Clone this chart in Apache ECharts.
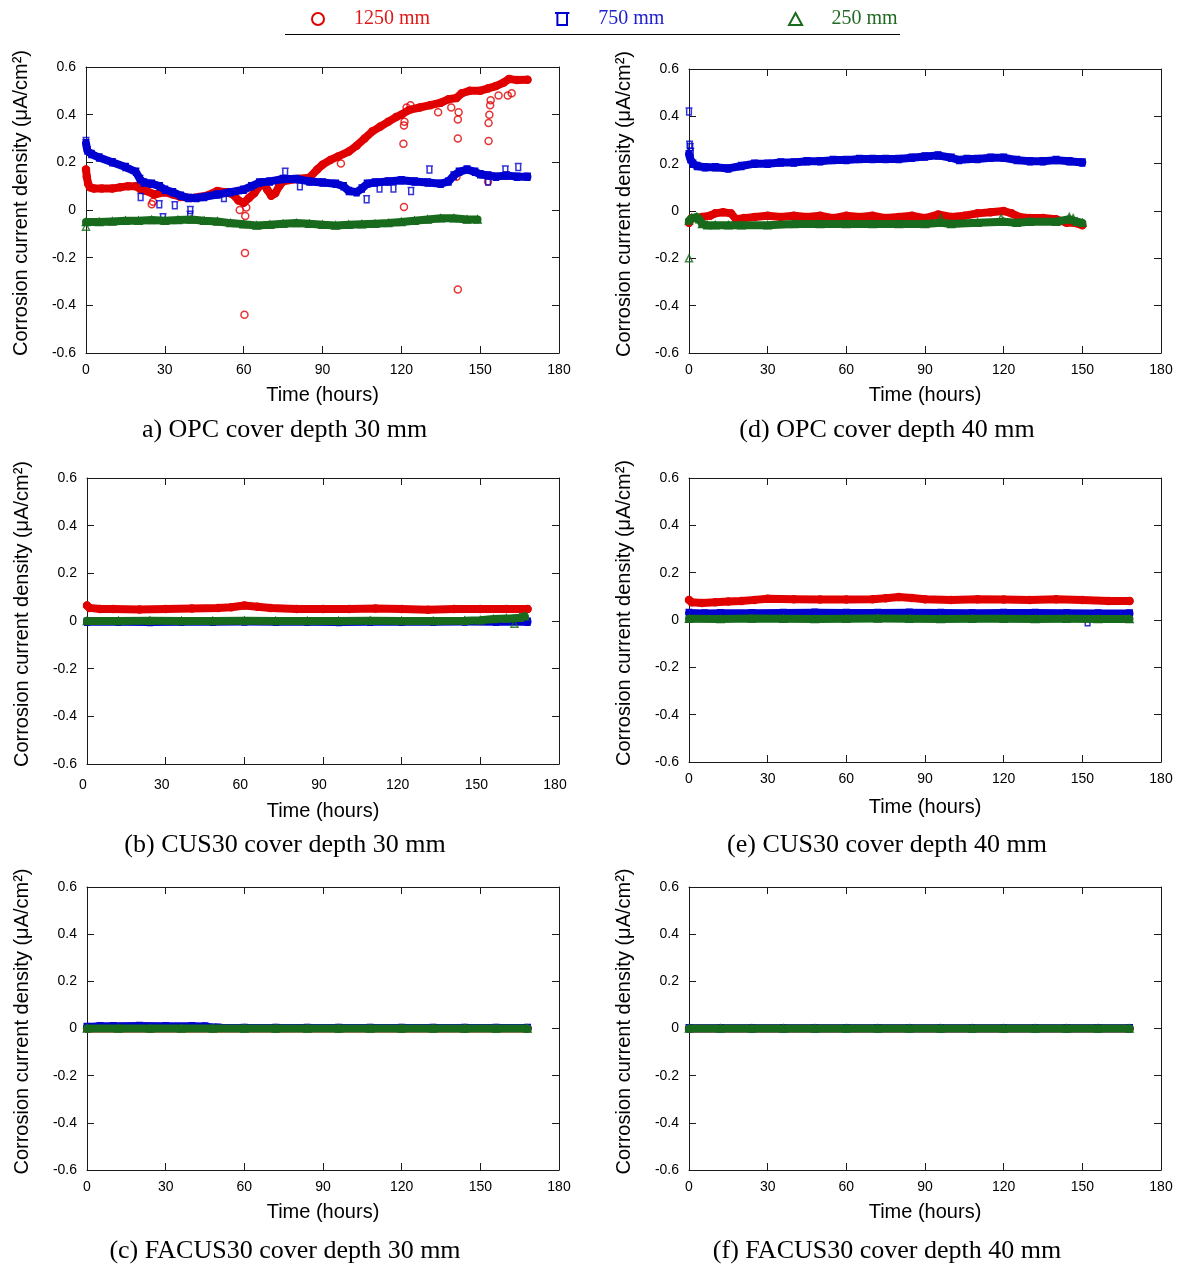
<!DOCTYPE html>
<html>
<head>
<meta charset="utf-8">
<script src="https://cdn.jsdelivr.net/npm/echarts@6/dist/echarts.min.js"></script>
<style>
html,body{margin:0;padding:0;background:#fff;}
#chart{width:1182px;height:1272px;}
</style>
</head>
<body>
<div id="chart"></div>
<script>
// ---------- tick labels / axes ----------
var xTicks = [0, 30, 60, 90, 120, 150, 180];
var yTicks = [-0.6, -0.4, -0.2, 0, 0.2, 0.4, 0.6];
var seriesNames = ['1250 mm', '750 mm', '250 mm'];
var captions = ['a) OPC cover depth 30 mm', '(b) CUS30 cover depth 30 mm', '(c) FACUS30 cover depth 30 mm',
                '(d) OPC cover depth 40 mm', '(e) CUS30 cover depth 40 mm', '(f) FACUS30 cover depth 40 mm'];

// ---------- (a) OPC 30 mm : [hours, µA/cm²] ----------
var a_1250 = [[0,0.17],[0.3,0.14],[0.8,0.11],[1.5,0.095],[3,0.09],[6,0.09],[10,0.09],[13,0.095],[16,0.1],[19,0.1],[21,0.085],[23,0.08],[26,0.065],[30,0.075],[33,0.065],[36,0.055],[40,0.05],[43,0.055],[46,0.06],[50,0.08],[53,0.075],[56,0.065],[58,0.04],[60,0.03],[62,0.05],[64,0.07],[66,0.1],[67.5,0.115],[69,0.085],[70.5,0.06],[72,0.07],[73.5,0.1],[75,0.12],[80,0.13],[85,0.135],[88,0.17],[90,0.19],[93,0.21],[96,0.225],[100,0.245],[103,0.27],[106,0.3],[109,0.33],[112,0.35],[115,0.37],[118,0.39],[120,0.4],[123,0.42],[127,0.43],[131,0.44],[135,0.45],[138,0.465],[141,0.47],[143,0.49],[146,0.5],[150,0.5],[153,0.51],[156,0.52],[159,0.535],[161,0.55],[164,0.545],[168,0.547]];
var a_1250_out = [[60.3,-0.44],[60.5,-0.18],[60.6,-0.025],[58.5,0.0],[61,0.01],[25,0.024],[25.5,0.035],[97,0.195],[120.8,0.278],[121,0.355],[121.2,0.37],[121,0.013],[122,0.43],[123.5,0.44],[134,0.41],[139,0.43],[141.5,-0.334],[141.5,0.3],[141.5,0.38],[141.8,0.41],[141,0.14],[153.2,0.29],[153.2,0.365],[153.5,0.4],[153.8,0.44],[154,0.46],[153,0.12],[157,0.48],[160.5,0.48],[162,0.49]];
var a_750 = [[0,0.28],[0.5,0.25],[2,0.235],[5,0.22],[10,0.2],[15,0.18],[19,0.16],[20.5,0.13],[22,0.115],[25,0.11],[28,0.1],[30,0.085],[33,0.075],[36,0.06],[39,0.05],[42,0.05],[45,0.055],[50,0.065],[55,0.075],[60,0.085],[63,0.1],[66,0.115],[70,0.12],[75,0.13],[80,0.13],[85,0.12],[90,0.115],[95,0.11],[98,0.1],[100,0.08],[103,0.075],[105,0.09],[107,0.11],[110,0.115],[115,0.12],[120,0.125],[125,0.12],[130,0.115],[135,0.11],[138,0.12],[140,0.145],[142,0.16],[145,0.17],[148,0.16],[150,0.15],[153,0.145],[156,0.14],[160,0.145],[164,0.14],[168,0.14]];
var a_750_out = [[0,0.29],[20.8,0.055],[27.9,0.024],[29.3,-0.03],[33.8,0.02],[39.7,0.0],[39.6,-0.02],[52.5,0.05],[75.8,0.16],[81.4,0.1],[106.8,0.045],[111.7,0.09],[117,0.09],[123.7,0.08],[130.7,0.17],[153,0.12],[159.6,0.17],[164.5,0.18]];
var a_250 = [[0,-0.05],[5,-0.05],[10,-0.048],[15,-0.045],[20,-0.045],[25,-0.042],[30,-0.045],[35,-0.042],[40,-0.04],[45,-0.045],[50,-0.048],[55,-0.055],[60,-0.06],[65,-0.065],[70,-0.062],[75,-0.058],[80,-0.055],[85,-0.058],[90,-0.062],[95,-0.065],[100,-0.062],[105,-0.06],[110,-0.058],[115,-0.055],[120,-0.05],[125,-0.045],[130,-0.04],[135,-0.035],[140,-0.035],[145,-0.04],[149,-0.04]];
var a_250_out = [[0,-0.07]];

// ---------- (b) CUS30 30 mm ----------
var b_1250 = [[0,0.065],[1,0.055],[5,0.05],[10,0.05],[20,0.048],[30,0.05],[40,0.052],[50,0.055],[55,0.058],[60,0.065],[65,0.06],[70,0.055],[80,0.05],[90,0.05],[100,0.05],[110,0.052],[120,0.05],[130,0.047],[140,0.05],[150,0.05],[160,0.05],[168,0.05]];
var b_750 = [[0,-0.003],[12,-0.003],[24,-0.004],[36,-0.003],[48,-0.003],[60,-0.002],[72,-0.003],[84,-0.003],[96,-0.004],[108,-0.003],[120,-0.003],[132,-0.003],[144,-0.002],[156,-0.003],[168,-0.003]];
var b_250 = [[0,0.0],[12,0.0],[24,0.001],[36,0.0],[48,0.0],[60,0.001],[72,0.0],[84,0.0],[96,0.0],[108,0.001],[120,0.0],[132,0.0],[144,0.001],[150,0.003],[155,0.008],[160,0.01],[165,0.014],[167,0.02]];
var b_250_out = [[163,-0.012]];

// ---------- (c) FACUS30 30 mm ----------
var c_1250 = [[0,0.0],[24,0.0],[48,0.0],[72,0.0],[96,0.0],[120,0.0],[144,0.0],[168,0.0]];
var c_750 = [[0,0.006],[5,0.01],[10,0.01],[20,0.011],[30,0.01],[40,0.01],[45,0.008],[50,0.003],[60,0.002],[72,0.002],[84,0.002],[96,0.002],[108,0.002],[120,0.002],[132,0.002],[144,0.002],[156,0.002],[168,0.002]];
var c_250 = [[0,0.0],[12,0.0],[24,0.0],[36,0.0],[48,0.0],[60,0.0],[72,0.0],[84,0.0],[96,0.0],[108,0.0],[120,0.0],[132,0.0],[144,0.0],[156,0.0],[168,0.0]];

// ---------- (d) OPC 40 mm ----------
var d_1250 = [[0,-0.05],[1,-0.03],[3,-0.03],[5,-0.025],[8,-0.02],[10,-0.01],[13,-0.005],[16,-0.01],[18,-0.035],[21,-0.03],[25,-0.025],[30,-0.02],[35,-0.025],[40,-0.02],[45,-0.025],[50,-0.02],[55,-0.03],[60,-0.02],[65,-0.025],[70,-0.02],[75,-0.03],[80,-0.025],[85,-0.02],[90,-0.03],[95,-0.015],[100,-0.025],[105,-0.02],[110,-0.01],[115,-0.005],[120,0.0],[123,-0.01],[126,-0.025],[130,-0.03],[135,-0.03],[140,-0.035],[144,-0.05],[147,-0.05],[150,-0.06]];
var d_750 = [[0,0.24],[0.5,0.22],[1.5,0.2],[3,0.19],[6,0.185],[10,0.185],[15,0.18],[20,0.19],[25,0.2],[30,0.2],[35,0.205],[40,0.205],[45,0.21],[50,0.21],[55,0.215],[60,0.215],[65,0.22],[70,0.22],[75,0.22],[80,0.22],[85,0.225],[90,0.23],[95,0.235],[100,0.225],[103,0.215],[106,0.22],[110,0.22],[115,0.225],[120,0.225],[125,0.215],[130,0.21],[135,0.21],[140,0.215],[145,0.21],[150,0.205]];
var d_750_out = [[0,0.42],[0.2,0.28],[0.5,0.27],[0.7,0.25]];
var d_250 = [[0,-0.04],[1,-0.03],[3,-0.025],[4,-0.035],[5,-0.055],[7,-0.06],[10,-0.06],[15,-0.06],[20,-0.06],[30,-0.06],[40,-0.055],[50,-0.055],[60,-0.055],[70,-0.055],[80,-0.055],[90,-0.055],[96,-0.05],[100,-0.055],[110,-0.05],[120,-0.045],[125,-0.05],[130,-0.045],[140,-0.045],[145,-0.035],[148,-0.045],[150,-0.05]];
var d_250_out = [[0,-0.2],[96,-0.03],[119,-0.03],[145,-0.025],[146.5,-0.03]];

// ---------- (e) CUS30 40 mm ----------
var e_1250 = [[0,0.085],[1,0.075],[5,0.072],[10,0.075],[15,0.078],[20,0.08],[25,0.085],[30,0.09],[40,0.088],[50,0.087],[60,0.087],[70,0.088],[75,0.092],[80,0.097],[85,0.093],[90,0.088],[100,0.085],[110,0.088],[120,0.087],[130,0.085],[140,0.088],[150,0.085],[160,0.08],[168,0.08]];
var e_750 = [[0,0.03],[6,0.027],[12,0.028],[24,0.029],[36,0.03],[48,0.031],[60,0.03],[72,0.03],[84,0.031],[96,0.03],[108,0.029],[120,0.03],[132,0.03],[144,0.028],[156,0.027],[168,0.027]];
var e_750_out = [[152,-0.01]];
var e_250 = [[0,0.005],[12,0.004],[24,0.006],[36,0.005],[48,0.004],[60,0.005],[72,0.006],[84,0.005],[96,0.004],[108,0.005],[120,0.005],[132,0.004],[144,0.005],[156,0.004],[168,0.004]];

// ---------- (f) FACUS30 40 mm ----------
var f_1250 = [[0,0.0],[24,0.0],[48,0.0],[72,0.0],[96,0.0],[120,0.0],[144,0.0],[168,0.0]];
var f_750 = [[0,0.001],[12,0.001],[24,0.001],[36,0.001],[48,0.001],[60,0.001],[72,0.001],[84,0.001],[96,0.001],[108,0.001],[120,0.001],[132,0.001],[144,0.001],[156,0.001],[168,0.001]];
var f_250 = [[0,0.0],[12,0.0],[24,0.0],[36,0.0],[48,0.0],[60,0.0],[72,0.0],[84,0.0],[96,0.0],[108,0.0],[120,0.0],[132,0.0],[144,0.0],[156,0.0],[168,0.0]];

// ---------- styling ----------
var COLORS = ['#e00000', '#0000d0', '#186a1c'];
var TEXTCOL = ['#e01818', '#2020d0', '#206a24'];
var SYMS = ['circle', 'path://M0,1H12M2,1V11H10V1', 'path://M6,0L12,11H0Z'];
var SANS = 'Liberation Sans, Arial, sans-serif';
var SERIF = 'Liberation Serif, Times New Roman, serif';

// layout per panel: [left, top, right, bottom, labelMargin, nameGap, captionTop, labelShiftLeft]
var boxes = [
  [86, 67, 559, 353, 10, 32, 417, 0],    // a
  [87, 478, 559, 764, 14, 37, 832, 8],   // b
  [87, 887, 559, 1170, 10, 32, 1238, 0], // c
  [689, 69, 1161, 353, 10, 32, 417, 0],  // d
  [689, 478, 1161, 762, 10, 35, 832, 0], // e
  [689, 887, 1161, 1170, 10, 32, 1238, 0]// f
];
var panelData = [
  [a_1250, a_750, a_250, a_1250_out, a_750_out, a_250_out],
  [b_1250, b_750, b_250, [], [], b_250_out],
  [c_1250, c_750, c_250, [], [], []],
  [d_1250, d_750, d_250, [], d_750_out, d_250_out],
  [e_1250, e_750, e_250, [], e_750_out, []],
  [f_1250, f_750, f_250, [], [], []]
];

var grids = [], xAxes = [], yAxes = [], series = [], titles = [];
var axisLine = {show: true, onZero: false, lineStyle: {color: '#1a1a1a', width: 1}};
var tick = {show: true, inside: true, length: 7, lineStyle: {color: '#1a1a1a', width: 1}};

boxes.forEach(function (b, i) {
  grids.push({left: b[0], top: b[1], width: b[2] - b[0], height: b[3] - b[1], containLabel: false});
  xAxes.push({type: 'value', gridIndex: i, min: xTicks[0], max: xTicks[xTicks.length - 1], interval: 30,
    position: 'bottom', axisLine: axisLine, axisTick: tick, splitLine: {show: false},
    axisLabel: {color: '#000', fontSize: 14, fontFamily: SANS, margin: b[4], padding: [0, b[7], 0, 0]},
    name: 'Time (hours)', nameLocation: 'middle', nameGap: b[5],
    nameTextStyle: {color: '#000', fontSize: 20, fontFamily: SANS}});
  xAxes.push({type: 'value', gridIndex: i, min: xTicks[0], max: xTicks[xTicks.length - 1], interval: 30,
    position: 'top', axisLine: axisLine, axisTick: tick, splitLine: {show: false}, axisLabel: {show: false}});
  yAxes.push({type: 'value', gridIndex: i, min: yTicks[0], max: yTicks[yTicks.length - 1], interval: 0.2,
    position: 'left', axisLine: axisLine, axisTick: tick, splitLine: {show: false},
    axisLabel: {color: '#000', fontSize: 14, fontFamily: SANS, margin: 10,
      formatter: function (v) { return String(Math.round(v * 10) / 10); }},
    name: 'Corrosion current density (μA/cm²)', nameLocation: 'middle', nameGap: 55,
    nameTextStyle: {color: '#000', fontSize: 20, fontFamily: SANS, padding: [0, 0, 0, 14]}});
  yAxes.push({type: 'value', gridIndex: i, min: yTicks[0], max: yTicks[yTicks.length - 1], interval: 0.2,
    position: 'right', axisLine: axisLine, axisTick: tick, splitLine: {show: false}, axisLabel: {show: false}});

  var pd = panelData[i];
  for (var s = 0; s < 3; s++) {
    series.push({
      type: 'line', name: seriesNames[s], xAxisIndex: 2 * i, yAxisIndex: 2 * i,
      data: pd[s], symbol: SYMS[s], symbolSize: 7, showSymbol: true, z: 2 + s,
      lineStyle: {color: COLORS[s], width: 8, cap: 'round', join: 'round'},
      itemStyle: {color: 'rgba(255,255,255,0)', borderColor: COLORS[s], borderWidth: 1.5},
      emphasis: {disabled: true}, silent: true
    });
    if (pd[s + 3].length) {
      series.push({
        type: 'scatter', name: seriesNames[s], xAxisIndex: 2 * i, yAxisIndex: 2 * i,
        data: pd[s + 3], symbol: SYMS[s], symbolSize: 7, z: 2 + s,
        itemStyle: {color: 'rgba(255,255,255,0)', borderColor: COLORS[s], borderWidth: 1.5},
        emphasis: {disabled: true}, silent: true
      });
    }
  }
  titles.push({text: captions[i], left: (b[0] + b[2]) / 2 - 38, top: b[6],
    textAlign: 'center', padding: 0,
    textStyle: {fontFamily: SERIF, fontSize: 26, fontWeight: 'normal', color: '#000'}});
});

// legends: one component per item, so each sits where the reference puts it
var legendLeft = [311, 554, 788];
var legends = seriesNames.map(function (n, k) {
  return {
    left: legendLeft[k], top: 9, itemWidth: 62, itemHeight: 12, selectedMode: false, padding: 0,
    symbolKeepAspect: true,
    textStyle: {fontFamily: SERIF, fontSize: 20, color: TEXTCOL[k]},
    data: [{name: n, icon: SYMS[k],
      itemStyle: {color: 'rgba(255,255,255,0)', borderColor: COLORS[k], borderWidth: 2},
      textStyle: {color: TEXTCOL[k], fontFamily: SERIF, fontSize: 20}}]
  };
});

var chart = echarts.init(document.getElementById('chart'), null, {renderer: 'canvas'});
chart.setOption({
  animation: false,
  backgroundColor: '#fff',
  title: titles,
  legend: legends,
  graphic: [{type: 'line', shape: {x1: 285, y1: 34.5, x2: 900, y2: 34.5}, style: {stroke: '#000', lineWidth: 1.2}, silent: true}],
  grid: grids, xAxis: xAxes, yAxis: yAxes, series: series
});
</script>
</body>
</html>
